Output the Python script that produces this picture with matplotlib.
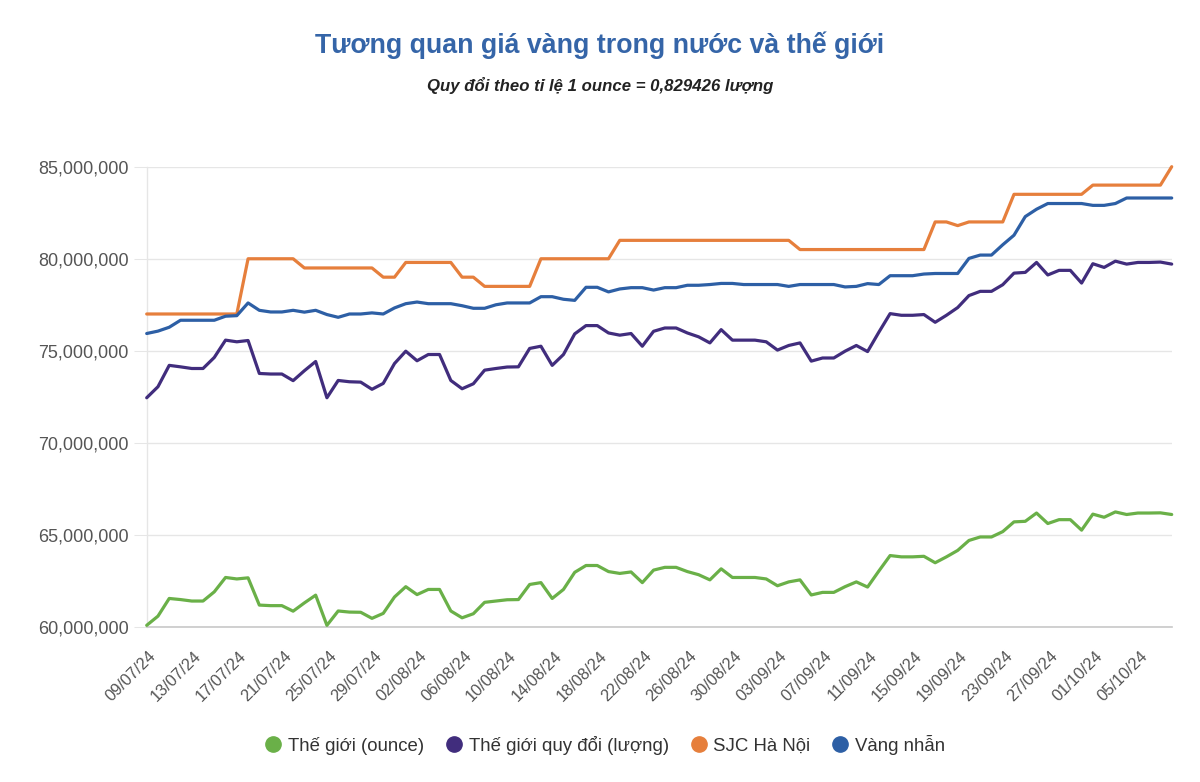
import matplotlib
matplotlib.use("Agg")
import matplotlib.pyplot as plt
import matplotlib.transforms as mtransforms
from matplotlib.lines import Line2D
from matplotlib.ticker import FuncFormatter, MultipleLocator
import numpy as np

plt.rcParams['font.family'] = ['Liberation Sans', 'DejaVu Sans']

# ---- data (million VND) ----
tick_labels = ["09/07/24", "13/07/24", "17/07/24", "21/07/24", "25/07/24", "29/07/24",
               "02/08/24", "06/08/24", "10/08/24", "14/08/24", "18/08/24", "22/08/24",
               "26/08/24", "30/08/24", "03/09/24", "07/09/24", "11/09/24", "15/09/24",
               "19/09/24", "23/09/24", "27/09/24", "01/10/24", "05/10/24"]

world_ounce = [60.09, 60.59, 61.55, 61.49, 61.41, 61.41, 61.91, 62.69, 62.61, 62.67,
               61.19, 61.16, 61.16, 60.86, 61.31, 61.73, 60.09, 60.87, 60.81, 60.80,
               60.47, 60.74, 61.63, 62.19, 61.76, 62.04, 62.04, 60.87, 60.50, 60.72,
               61.34, 61.41, 61.48, 61.49, 62.31, 62.41, 61.55, 62.04, 62.97, 63.34,
               63.34, 63.01, 62.91, 62.99, 62.41, 63.09, 63.24, 63.24, 63.01, 62.84,
               62.56, 63.16, 62.69, 62.69, 62.69, 62.61, 62.24, 62.45, 62.56, 61.74,
               61.88, 61.88, 62.19, 62.45, 62.17, 63.04, 63.88, 63.81, 63.81, 63.84,
               63.49, 63.81, 64.16, 64.70, 64.89, 64.89, 65.18, 65.71, 65.74, 66.19,
               65.62, 65.83, 65.83, 65.26, 66.13, 65.96, 66.25, 66.11, 66.19, 66.19,
               66.20, 66.11]

world_luong = [72.45, 73.05, 74.21, 74.13, 74.04, 74.04, 74.64, 75.58, 75.49, 75.56,
               73.77, 73.74, 73.74, 73.38, 73.92, 74.42, 72.45, 73.39, 73.32, 73.30,
               72.91, 73.23, 74.31, 74.98, 74.46, 74.80, 74.80, 73.39, 72.94, 73.21,
               73.95, 74.04, 74.12, 74.13, 75.13, 75.25, 74.21, 74.80, 75.92, 76.37,
               76.37, 75.97, 75.85, 75.94, 75.25, 76.06, 76.24, 76.24, 75.97, 75.76,
               75.43, 76.15, 75.58, 75.58, 75.58, 75.49, 75.04, 75.29, 75.43, 74.44,
               74.61, 74.61, 74.98, 75.29, 74.96, 76.01, 77.02, 76.93, 76.93, 76.97,
               76.55, 76.93, 77.35, 78.00, 78.23, 78.23, 78.59, 79.22, 79.26, 79.80,
               79.12, 79.37, 79.37, 78.68, 79.73, 79.53, 79.87, 79.71, 79.80, 79.80,
               79.82, 79.71]

sjc_hanoi = [77.0, 77.0, 77.0, 77.0, 77.0, 77.0, 77.0, 77.0, 77.0, 80.0,
             80.0, 80.0, 80.0, 80.0, 79.5, 79.5, 79.5, 79.5, 79.5, 79.5,
             79.5, 79.0, 79.0, 79.8, 79.8, 79.8, 79.8, 79.8, 79.0, 79.0,
             78.5, 78.5, 78.5, 78.5, 78.5, 80.0, 80.0, 80.0, 80.0, 80.0,
             80.0, 80.0, 81.0, 81.0, 81.0, 81.0, 81.0, 81.0, 81.0, 81.0,
             81.0, 81.0, 81.0, 81.0, 81.0, 81.0, 81.0, 81.0, 80.5, 80.5,
             80.5, 80.5, 80.5, 80.5, 80.5, 80.5, 80.5, 80.5, 80.5, 80.5,
             82.0, 82.0, 81.8, 82.0, 82.0, 82.0, 82.0, 83.5, 83.5, 83.5,
             83.5, 83.5, 83.5, 83.5, 84.0, 84.0, 84.0, 84.0, 84.0, 84.0,
             84.0, 85.0]

vang_nhan = [75.94, 76.07, 76.28, 76.66, 76.66, 76.66, 76.66, 76.88, 76.91, 77.60,
             77.20, 77.11, 77.11, 77.20, 77.10, 77.20, 76.97, 76.82, 77.00, 77.00,
             77.06, 77.00, 77.33, 77.56, 77.65, 77.56, 77.56, 77.56, 77.45, 77.31,
             77.31, 77.50, 77.60, 77.60, 77.60, 77.94, 77.94, 77.80, 77.74, 78.45,
             78.45, 78.20, 78.36, 78.43, 78.43, 78.30, 78.43, 78.43, 78.56, 78.56,
             78.60, 78.66, 78.66, 78.60, 78.60, 78.60, 78.60, 78.50, 78.60, 78.60,
             78.60, 78.60, 78.47, 78.50, 78.65, 78.60, 79.08, 79.08, 79.08, 79.17,
             79.20, 79.20, 79.20, 80.02, 80.20, 80.20, 80.76, 81.28, 82.29, 82.69,
             83.00, 83.00, 83.00, 83.00, 82.90, 82.90, 83.00, 83.30, 83.30, 83.30,
             83.30, 83.30]

series_names = ["Thế giới (ounce)", "Thế giới quy đổi (lượng)", "SJC Hà Nội", "Vàng nhẫn"]
series_colors = ["#6ab048", "#412d7d", "#e67f3c", "#2d5fa5"]

title = "Tương quan giá vàng trong nước và thế giới"
subtitle = "Quy đổi theo tỉ lệ 1 ounce = 0,829426 lượng"

# ---- figure ----
W, H = 1200, 782
fig = plt.figure(figsize=(W / 100, H / 100), dpi=100)
fig.patch.set_facecolor("white")
left_px, right_px, top_px, bottom_px = 146.7, 1171.7, 166.7, 627.0
ax = fig.add_axes([left_px / W, 1 - bottom_px / H, (right_px - left_px) / W, (bottom_px - top_px) / H])

x = np.arange(len(sjc_hanoi))
for vals, col, name in zip([world_ounce, world_luong, sjc_hanoi, vang_nhan], series_colors, series_names):
    ax.plot(x, vals, color=col, lw=2.3, solid_joinstyle="round", solid_capstyle="round",
            clip_on=False, label=name, zorder=3)

ax.set_xlim(0, len(x) - 1)
ax.set_ylim(60, 85)
ax.yaxis.set_major_locator(MultipleLocator(5))
ax.yaxis.set_major_formatter(FuncFormatter(lambda v, p: f"{int(round(v * 1e6)):,}"))
ax.grid(axis="y", color="#e6e6e6", lw=1)
ax.set_axisbelow(True)

for s in ["top", "right"]:
    ax.spines[s].set_visible(False)
ax.spines["left"].set_color("#e6e6e6")
ax.spines["left"].set_linewidth(1)
ax.spines["bottom"].set_color("#c8c8c8")
ax.spines["bottom"].set_linewidth(1.2)

ax.tick_params(axis="y", length=9.4, width=0.75, color="#e6e6e6", pad=3.5,
               labelsize=13, labelcolor="#555555")
ax.set_xticks(np.arange(0, len(x), 4))
ax.set_xticklabels(tick_labels)
ax.tick_params(axis="x", length=0, pad=19, labelsize=11.8, labelcolor="#555555")
offset = mtransforms.ScaledTranslation(0.07, 0, fig.dpi_scale_trans)
for lab in ax.get_xticklabels():
    lab.set_rotation(45)
    lab.set_ha("right")
    lab.set_va("center")
    lab.set_rotation_mode("anchor")
    lab.set_transform(lab.get_transform() + offset)

fig.text(0.5, 1 - 45 / H, title, ha="center", va="center", fontsize=19.3,
         fontweight="bold", color="#3565a8")
fig.text(0.5, 1 - 85 / H, subtitle, ha="center", va="center", fontsize=12.1,
         fontweight="bold", style="italic", color="#222222")

handles = [Line2D([0], [0], marker="o", ls="none", markersize=11, color=c) for c in series_colors]
leg = fig.legend(handles, series_names, loc="center", bbox_to_anchor=(0.503, 1 - 745 / H),
                 ncol=4, frameon=False, fontsize=13.4, handletextpad=0.2, columnspacing=1.0,
                 handlelength=1.2)
for t in leg.get_texts():
    t.set_color("#333333")

fig.savefig("out.png", dpi=100, facecolor="white")
